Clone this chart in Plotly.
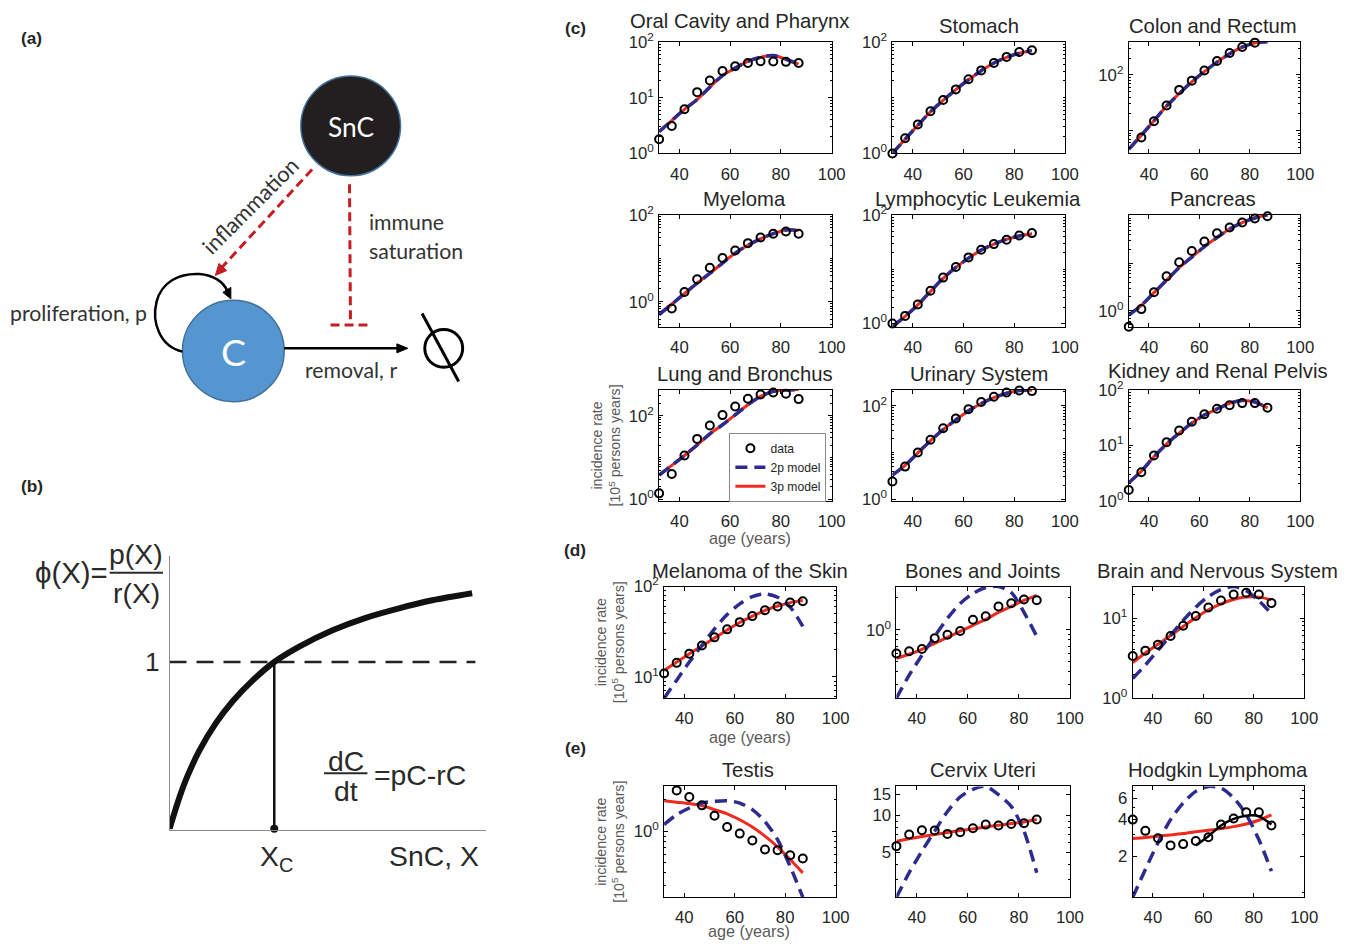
import math
import plotly.graph_objects as go

W, H = 1352, 946
# the photographed page lands in the picture slightly shrunk and shifted down;
# positions below are picture pixels and are mapped back to page pixels here
SX, SY, OY = 0.9925, 0.981, 8.9
FS = 1.013

# ---------------- data ----------------
ages = [32, 37, 42, 47, 52, 57, 62, 67, 72, 77, 82, 87]
age_ticks = [40, 60, 80, 100]

# panel (c): 2p and 3p model fits coincide
oral_data = [1.8, 3.1, 6.2, 12.6, 20.4, 30, 36.7, 42, 45, 44.5, 44, 42]
oral_fit = [2.46, 3.9, 6.2, 9.3, 15.5, 25, 34, 45, 53, 57, 49, 40]
stomach_data = [1.0, 1.87, 3.3, 5.7, 9.1, 14.1, 21.4, 30.9, 42, 54, 66, 71]
stomach_fit = [1.0, 1.8, 3.2, 5.6, 9.0, 14.0, 21.0, 30.5, 42, 53, 63, 70]
colon_data = [3.86, 7.5, 14.7, 28.1, 53.8, 79, 120, 178, 248, 318, 381, 392]
colon_fit = [4.6, 8.2, 15, 27.5, 46, 75, 115, 170, 240, 315, 376, 395]
myeloma_data = [0.267, 0.70, 1.69, 3.3, 6.1, 10.2, 15.2, 22.4, 30.3, 36.7, 41.5, 36.7]
myeloma_fit = [0.51, 0.88, 1.55, 2.7, 4.5, 7.8, 13.2, 20, 28.2, 37, 45, 44]
lymph_data = [1.0, 1.38, 2.23, 4.0, 7.0, 11.0, 16.5, 22.8, 29, 34.8, 41.9, 46.2]
lymph_fit = [0.87, 1.35, 2.2, 3.9, 6.8, 10.8, 16, 22.5, 29, 35.5, 41, 45]
pancreas_data = [0.46, 1.08, 2.44, 5.3, 10.5, 18.2, 28.7, 43, 56.7, 72.3, 88, 98.4]
pancreas_fit = [0.81, 1.3, 2.4, 4.4, 8.1, 13.5, 22.5, 35, 53, 72, 90, 105]
lung_data = [1.39, 4.06, 11.2, 28, 58.6, 104, 167, 256, 325, 363, 337, 251]
lung_fit = [3.8, 6.5, 11.2, 20, 37, 61, 105, 184, 291, 384, 415, 425]
urinary_data = [2.39, 5.0, 10, 18.7, 33.2, 53.5, 84.8, 120, 156, 193, 213, 206]
urinary_fit = [3.3, 5.3, 9.8, 18, 31, 50, 78, 112, 150, 185, 212, 215]
kidney_data = [1.56, 3.25, 6.5, 11.3, 18.4, 26.4, 36.3, 45.4, 52.8, 57.4, 57.4, 47.3]
kidney_fit = [2.1, 3.4, 6.2, 10.5, 16.5, 25, 35, 45, 57, 64, 60, 47]

# panel (d)
melanoma_data = [10.9, 14.3, 18.1, 22.3, 27.4, 33.6, 40.4, 47.1, 54.8, 60.1, 66.6, 68.9]
melanoma_3p = [11.8, 14.6, 18.0, 22.0, 27.0, 33.0, 40.0, 47.0, 54.5, 61, 66.5, 70]
melanoma_2p = [5.8, 9.2, 14.6, 22.3, 34.1, 49.1, 64.4, 77.6, 83, 76.3, 59.2, 36.2]
bones_data = [0.594, 0.624, 0.656, 0.828, 0.897, 0.97, 1.24, 1.34, 1.66, 1.78, 1.93, 1.90]
bones_3p = [0.536, 0.585, 0.652, 0.743, 0.846, 0.963, 1.10, 1.25, 1.46, 1.66, 1.89, 2.11]
bones_2p = [0.225, 0.371, 0.572, 0.865, 1.28, 1.77, 2.2, 2.51, 2.56, 2.25, 1.46, 0.865]
brain_data = [3.36, 3.92, 4.66, 5.97, 8.04, 10.6, 13.6, 16.6, 19.7, 20.7, 19.7, 15.4]
brain_3p = [2.78, 3.67, 4.70, 6.08, 7.87, 10.1, 12.7, 15.1, 17.1, 18.3, 18.3, 16.9]
brain_2p = [1.76, 2.58, 3.96, 6.08, 9.35, 13.7, 18.6, 22.8, 24.8, 22, 16.5, 11.3]

# panel (e)
testis_data = [2.72, 2.46, 2.13, 1.77, 1.41, 1.10, 0.95, 0.815, 0.67, 0.659, 0.59, 0.55]
testis_3p = [1.96, 1.90, 1.84, 1.76, 1.61, 1.47, 1.29, 1.10, 0.90, 0.71, 0.537, 0.40]
testis_2p = [1.16, 1.44, 1.67, 1.86, 1.93, 1.96, 1.86, 1.61, 1.24, 0.83, 0.46, 0.234]
cervix_data = [5.64, 7.01, 7.6, 7.56, 7.1, 7.33, 7.89, 8.45, 8.3, 8.56, 8.67, 9.29]
cervix_3p = [6.19, 6.47, 6.76, 7.01, 7.28, 7.56, 7.8, 8.09, 8.35, 8.61, 8.89, 9.29]
cervix_2p = [2.16, 3.43, 5.14, 7.47, 10.8, 14.2, 16.4, 17.3, 14.8, 11.9, 7.47, 3.43]
hodgkin_data = [4.0, 3.23, 2.81, 2.45, 2.51, 2.66, 2.86, 3.64, 4.08, 4.59, 4.59, 3.57]
hodgkin_3p = [2.79, 2.84, 2.92, 2.99, 3.07, 3.17, 3.27, 3.37, 3.5, 3.68, 3.95, 4.37]
hodgkin_2p = [0.914, 1.55, 2.57, 4.0, 5.48, 6.84, 7.52, 7.28, 6.03, 4.4, 2.74, 1.5]
hodgkin_late_ages = [57, 62, 67, 72, 77, 82, 87]
hodgkin_late_fit = [2.45, 2.92, 3.57, 4.05, 4.31, 4.26, 3.64]

# tick labels
SUP = lambda p: "10<sup>%s</sup>" % p
ticks_012 = ([1, 10, 100], [SUP(0), SUP(1), SUP(2)])
ticks_02 = ([1, 100], [SUP(0), SUP(2)])
ticks_colon = ([10, 100], ["", SUP(2)])
ticks_pancreas = ([1, 10, 100], [SUP(0), "", ""])
ticks_melanoma = ([10, 100], [SUP(1), SUP(2)])
ticks_0 = ([1], [SUP(0)])
ticks_01 = ([1, 10], [SUP(0), SUP(1)])
ticks_cervix = ([5, 10, 15], ["5", "10", "15"])
ticks_hodgkin = ([2, 4, 6], ["2", "4", "6"])

# panel (b) schematic curve phi(X) (units: X_c = 1, phi(X_c) = 1)
phi_X = [0, 0.095, 0.159, 0.286, 0.444, 0.603, 0.794, 1.0, 1.238, 1.556, 1.873, 2.19, 2.508, 2.889]
phi_Y = [0, 0.19, 0.298, 0.47, 0.635, 0.765, 0.89, 1.0, 1.092, 1.19, 1.265, 1.322, 1.37, 1.412]
thresh_X = [0, 2.92]
thresh_Y = [1, 1]
xc_X = [1, 1]
xc_Y = [0, 1]

# ---------------- style / layout ----------------
RED = "#f02a1e"
BLUE = "#2d2c8e"
DARK = "#262626"
FONT = "Liberation Sans, Arial, sans-serif"
DIAG_FONT = "Lato, Open Sans, sans-serif"


def px(x):
    return min(max((x / SX) / W, 0), 1)


def py(y):
    return min(max(1 - ((y - OY) / SY) / H, 0), 1)


def fs(s):
    return s * FS


cols_c = [(661, 834), (895, 1068), (1132, 1304)]
cols_de = [(666, 838), (899, 1073), (1136, 1308)]
rows = [(39, 151), (212.7, 325), (388.3, 499.7), (586, 698), (786.7, 898)]

panels = [
    dict(t="Oral Cavity and Pharynx", d=oral_data, p2=oral_fit, p3=oral_fit, c=cols_c[0], r=rows[0], yr=[0, 2], tk=ticks_012, tp=(741.7, 18)),
    dict(t="Stomach", d=stomach_data, p2=stomach_fit, p3=stomach_fit, c=cols_c[1], r=rows[0], yr=[0, 2], tk=ticks_02, tp=(981.5, 23)),
    dict(t="Colon and Rectum", d=colon_data, p2=colon_fit, p3=colon_fit, c=cols_c[2], r=rows[0], yr=[0.587, 2.593], tk=ticks_colon, tp=(1217, 23)),
    dict(t="Myeloma", d=myeloma_data, p2=myeloma_fit, p3=myeloma_fit, c=cols_c[0], r=rows[1], yr=[-0.573, 2.0], tk=ticks_02, tp=(746.7, 197)),
    dict(t="Lymphocytic Leukemia", d=lymph_data, p2=lymph_fit, p3=lymph_fit, c=cols_c[1], r=rows[1], yr=[-0.06, 2.0], tk=ticks_02, tp=(981, 197)),
    dict(t="Pancreas", d=pancreas_data, p2=pancreas_fit, p3=pancreas_fit, c=cols_c[2], r=rows[1], yr=[-0.338, 2.02], tk=ticks_pancreas, tp=(1217, 197)),
    dict(t="Lung and Bronchus", d=lung_data, p2=lung_fit, p3=lung_fit, c=cols_c[0], r=rows[2], yr=[-0.032, 2.624], tk=ticks_02, tp=(746.7, 372), legend=True),
    dict(t="Urinary System", d=urinary_data, p2=urinary_fit, p3=urinary_fit, c=cols_c[1], r=rows[2], yr=[-0.03, 2.343], tk=ticks_02, tp=(981.5, 372)),
    dict(t="Kidney and Renal Pelvis", d=kidney_data, p2=kidney_fit, p3=kidney_fit, c=cols_c[2], r=rows[2], yr=[0, 2], tk=ticks_012, tp=(1221.7, 369)),
    dict(t="Melanoma of the Skin", d=melanoma_data, p2=melanoma_2p, p3=melanoma_3p, c=cols_de[0], r=rows[3], yr=[0.765, 2.0], tk=ticks_melanoma, tp=(751.7, 570)),
    dict(t="Bones and Joints", d=bones_data, p2=bones_2p, p3=bones_3p, c=cols_de[1], r=rows[3], yr=[-0.648, 0.408], tk=ticks_0, tp=(985.5, 570)),
    dict(t="Brain and Nervous System", d=brain_data, p2=brain_2p, p3=brain_3p, c=cols_de[2], r=rows[3], yr=[0, 1.394], tk=ticks_01, tp=(1221, 570)),
    dict(t="Testis", d=testis_data, p2=testis_2p, p3=testis_3p, c=cols_de[0], r=rows[4], yr=[-0.631, 0.429], tk=ticks_0, tp=(750, 770)),
    dict(t="Cervix Uteri", d=cervix_data, p2=cervix_2p, p3=cervix_3p, c=cols_de[1], r=rows[4], yr=[0.335, 1.238], tk=ticks_cervix, tp=(986, 770)),
    dict(t="Hodgkin Lymphoma", d=hodgkin_data, p2=hodgkin_2p, p3=hodgkin_3p, c=cols_de[2], r=rows[4], yr=[-0.039, 0.876], tk=ticks_hodgkin, tp=(1222, 770), extra=True),
]


def axnames(i):
    return ("x" if i == 1 else "x%d" % i, "y" if i == 1 else "y%d" % i)


def axkeys(i):
    return ("xaxis" if i == 1 else "xaxis%d" % i, "yaxis" if i == 1 else "yaxis%d" % i)


def minor_vals(yr, major):
    out = []
    for k in range(math.floor(yr[0]) - 1, math.ceil(yr[1]) + 1):
        for m in range(1, 10):
            v = m * 10 ** k
            lv = math.log10(v)
            if yr[0] < lv < yr[1] and all(abs(v - mv) > 1e-9 * max(1, mv) for mv in major):
                out.append(v)
    return out


fig = go.Figure()
layout = dict(
    width=W, height=H, autosize=False,
    margin=dict(l=0, r=0, t=0, b=0, pad=0),
    paper_bgcolor="white", plot_bgcolor="white",
    font=dict(family=FONT, color=DARK),
    showlegend=True,
    legend=dict(x=px(731.5), y=py(431.5), xanchor="left", yanchor="top",
                bgcolor="white", bordercolor="#8a8a8a", borderwidth=1,
                font=dict(size=fs(12), family=FONT, color=DARK),
                tracegroupgap=0, itemwidth=30),
)
annotations = []
shapes = []

for i, p in enumerate(panels, start=1):
    xa, ya = axnames(i)
    xk, yk = axkeys(i)
    tv, tt = p["tk"]
    layout[xk] = dict(domain=[px(p["c"][0]), px(p["c"][1])], range=[32, 100], anchor=ya,
                      tickvals=age_ticks, ticktext=[str(v) for v in age_ticks],
                      ticks="inside", ticklen=4, tickwidth=1, tickcolor="black",
                      mirror="allticks", showline=True, linecolor="black", linewidth=1,
                      showgrid=False, zeroline=False, ticklabelstandoff=5,
                      tickfont=dict(size=fs(16.5), color=DARK, family=FONT), fixedrange=True)
    layout[yk] = dict(domain=[py(p["r"][1]), py(p["r"][0])], type="log", range=p["yr"], anchor=xa,
                      tickvals=tv, ticktext=tt,
                      ticks="inside", ticklen=4, tickwidth=1, tickcolor="black",
                      minor=dict(ticks="inside", ticklen=2, tickcolor="black", tickvals=minor_vals(p["yr"], tv)),
                      mirror="allticks", showline=True, linecolor="black", linewidth=1,
                      showgrid=False, zeroline=False, ticklabelstandoff=1,
                      tickfont=dict(size=fs(16.5), color=DARK, family=FONT), fixedrange=True)
    leg = bool(p.get("legend"))
    fig.add_trace(go.Scatter(x=ages, y=p["p3"], mode="lines", xaxis=xa, yaxis=ya,
                             line=dict(color=RED, width=3, shape="spline", smoothing=0.8),
                             name="3p model", showlegend=leg, legendrank=3, hoverinfo="skip"))
    fig.add_trace(go.Scatter(x=ages, y=p["p2"], mode="lines", xaxis=xa, yaxis=ya,
                             line=dict(color=BLUE, width=3.5, dash="12px,7px", shape="spline", smoothing=0.8),
                             name="2p model", showlegend=leg, legendrank=2, hoverinfo="skip"))
    if p.get("extra"):
        fig.add_trace(go.Scatter(x=hodgkin_late_ages, y=hodgkin_late_fit, mode="lines", xaxis=xa, yaxis=ya,
                                 line=dict(color="black", width=2.5, shape="spline", smoothing=0.8),
                                 showlegend=False, hoverinfo="skip"))
    fig.add_trace(go.Scatter(x=ages, y=p["d"], mode="markers", xaxis=xa, yaxis=ya, cliponaxis=False,
                             marker=dict(symbol="circle-open", size=8, color="black", line=dict(width=2, color="black")),
                             name="data", showlegend=leg, legendrank=1, hoverinfo="skip"))
    annotations.append(dict(x=px(p["tp"][0]), y=py(p["tp"][1]), xref="paper", yref="paper",
                            text=p["t"], showarrow=False, xanchor="center", yanchor="middle",
                            font=dict(size=fs(20), color=DARK, family=FONT)))

# axis titles
for (cx, cy), (tx, ty) in [((608, 444), (752.5, 537)), ((611.7, 642), (752.5, 736.7)), ((612, 842), (751.5, 932))]:
    annotations.append(dict(x=px(cx), y=py(cy), xref="paper", yref="paper", textangle=-90,
                            text="incidence rate<br>[10<sup>5</sup> persons years]", showarrow=False,
                            xanchor="center", yanchor="middle", font=dict(size=fs(14), color="#5a5a5a", family=FONT)))
    annotations.append(dict(x=px(tx), y=py(ty), xref="paper", yref="paper", text="age (years)",
                            showarrow=False, xanchor="center", yanchor="middle",
                            font=dict(size=fs(16), color="#5a5a5a", family=FONT)))

# panel labels
for lab, (lx, ly) in [("(a)", (32, 35)), ("(b)", (32, 485)), ("(c)", (577, 25)), ("(d)", (577, 549)), ("(e)", (577, 748))]:
    annotations.append(dict(x=px(lx), y=py(ly), xref="paper", yref="paper", text="<b>%s</b>" % lab,
                            showarrow=False, xanchor="center", yanchor="middle",
                            font=dict(size=fs(17), color=DARK, family=FONT)))

# ---------------- panel (a): diagram in picture-pixel units ----------------
A = 16
xaA, yaA = axnames(A)
xkA, ykA = axkeys(A)
layout[xkA] = dict(domain=[0, px(560)], range=[0, 560], visible=False, fixedrange=True, anchor=yaA)
layout[ykA] = dict(domain=[py(420), 1], range=[420, OY], visible=False, fixedrange=True, anchor=xaA)
DRED = "#c41e24"
CIRC_EDGE = "#41719c"


def shp(**kw):
    d = dict(xref=xaA, yref=yaA, layer="above")
    d.update(kw)
    shapes.append(d)


# SnC and C nodes
shp(type="circle", x0=301.7, x1=401.7, y0=73.3, y1=173.3, fillcolor="#231f20", line=dict(color=CIRC_EDGE, width=1.5))
shp(type="circle", x0=183, x1=285, y0=298.3, y1=400.3, fillcolor="#5596d0", line=dict(color=CIRC_EDGE, width=1.5))
# inflammation dashed arrow
shp(type="line", x0=313, y0=167, x1=222, y1=266, line=dict(color=DRED, width=3, dash="9px,5px"))
shp(type="path", path="M 216,273.5 L 227.4,268.6 L 219.6,261.4 Z", fillcolor=DRED, line=dict(color=DRED, width=1))
# immune saturation blunt arrow
shp(type="line", x0=350.5, y0=182, x1=351.5, y1=323.3, line=dict(color=DRED, width=3, dash="9px,5px"))
shp(type="line", x0=331.5, y0=323.3, x1=368.5, y1=323.3, line=dict(color=DRED, width=3, dash="9px,5px"))
# proliferation loop
shp(type="path", path="M 183,350 C 160,345 152,320 157,300 C 162,280 180,271 200,272 C 214,273 224,280 228,289",
    line=dict(color="black", width=2.5))
shp(type="path", path="M 231.5,297 L 223.5,290.5 L 231.5,285.5 Z", fillcolor="black", line=dict(color="black", width=1))
# removal arrow
shp(type="line", x0=285, y0=346.7, x1=400, y1=346.7, line=dict(color="black", width=2.5))
shp(type="path", path="M 409,346.7 L 398,342.2 L 398,351.2 Z", fillcolor="black", line=dict(color="black", width=1))
# empty set
shp(type="circle", x0=426, x1=464, y0=327.7, y1=365.7, line=dict(color="black", width=3))
shp(type="line", x0=423.3, y0=311.7, x1=460, y1=380, line=dict(color="black", width=3))


def ann_a(x, y, text, size=21, color="#333333", xanchor="center", angle=0, family=DIAG_FONT):
    annotations.append(dict(x=x, y=y, xref=xaA, yref=yaA, text=text, showarrow=False,
                            xanchor=xanchor, yanchor="middle", textangle=angle,
                            font=dict(size=fs(size), color=color, family=family)))


ann_a(351.7, 124, "SnC", size=26, color="white")
ann_a(234, 350, "C", size=37, color="white")
ann_a(251, 204, "inflammation", size=21.5, angle=-45)
ann_a(368, 220, "immune", size=21, xanchor="left")
ann_a(368, 248.5, "saturation", size=21, xanchor="left")
ann_a(8, 311.5, "proliferation, p", size=21, xanchor="left")
ann_a(351.7, 368.5, "removal, r", size=21)

# ---------------- panel (b): phi(X) schematic ----------------
B = 17
xaB, yaB = axnames(B)
xkB, ykB = axkeys(B)
layout[xkB] = dict(domain=[px(170), px(487.3)], range=[0, 3.02], anchor=yaB, showline=True,
                   linecolor="#8c8c8c", linewidth=1, ticks="", showticklabels=False,
                   showgrid=False, zeroline=False, fixedrange=True)
layout[ykB] = dict(domain=[py(830), py(555)], range=[-0.004, 1.637], anchor=xaB, showline=True,
                   linecolor="#8c8c8c", linewidth=1, ticks="", showticklabels=False,
                   showgrid=False, zeroline=False, fixedrange=True)
fig.add_trace(go.Scatter(x=thresh_X, y=thresh_Y, mode="lines", xaxis=xaB, yaxis=yaB,
                         line=dict(color="#222222", width=2.5, dash="17px,10px"), showlegend=False, hoverinfo="skip"))
fig.add_trace(go.Scatter(x=xc_X, y=xc_Y, mode="lines", xaxis=xaB, yaxis=yaB,
                         line=dict(color="#111111", width=2.5), showlegend=False, hoverinfo="skip"))
fig.add_trace(go.Scatter(x=phi_X, y=phi_Y, mode="lines", xaxis=xaB, yaxis=yaB, cliponaxis=False,
                         line=dict(color="#111111", width=6, shape="spline", smoothing=0.9),
                         showlegend=False, hoverinfo="skip"))
fig.add_trace(go.Scatter(x=[xc_X[0]], y=[xc_Y[0]], mode="markers", xaxis=xaB, yaxis=yaB, cliponaxis=False,
                         marker=dict(color="#111111", size=8), showlegend=False, hoverinfo="skip"))


def ann_p(x, y, text, size=28, xanchor="center"):
    annotations.append(dict(x=px(x), y=py(y), xref="paper", yref="paper", text=text, showarrow=False,
                            xanchor=xanchor, yanchor="middle", font=dict(size=fs(size), color="#2a2a2a", family=FONT)))


ann_p(72, 572, "\u03d5(X)=", size=29)
ann_p(136.7, 553, "p(X)", size=28)
ann_p(136.7, 592, "r(X)", size=28)
shapes.append(dict(type="line", xref="paper", yref="paper", x0=px(110), x1=px(163.5), y0=py(572), y1=py(572),
                   line=dict(color="#2a2a2a", width=2)))
ann_p(153.3, 662, "1", size=26)
ann_p(277, 859, "X<sub>C</sub>", size=28)
ann_p(435, 857, "SnC, X", size=28)
ann_p(347, 761, "dC", size=28)
ann_p(347, 791, "dt", size=28)
shapes.append(dict(type="line", xref="paper", yref="paper", x0=px(325), x1=px(368.5), y0=py(773.5), y1=py(773.5),
                   line=dict(color="#2a2a2a", width=2)))
ann_p(373, 775, "=pC-rC", size=28, xanchor="left")

layout["annotations"] = annotations
layout["shapes"] = shapes
fig.update_layout(**layout)

fig.write_html("out.html", config={"displayModeBar": False, "staticPlot": True})
